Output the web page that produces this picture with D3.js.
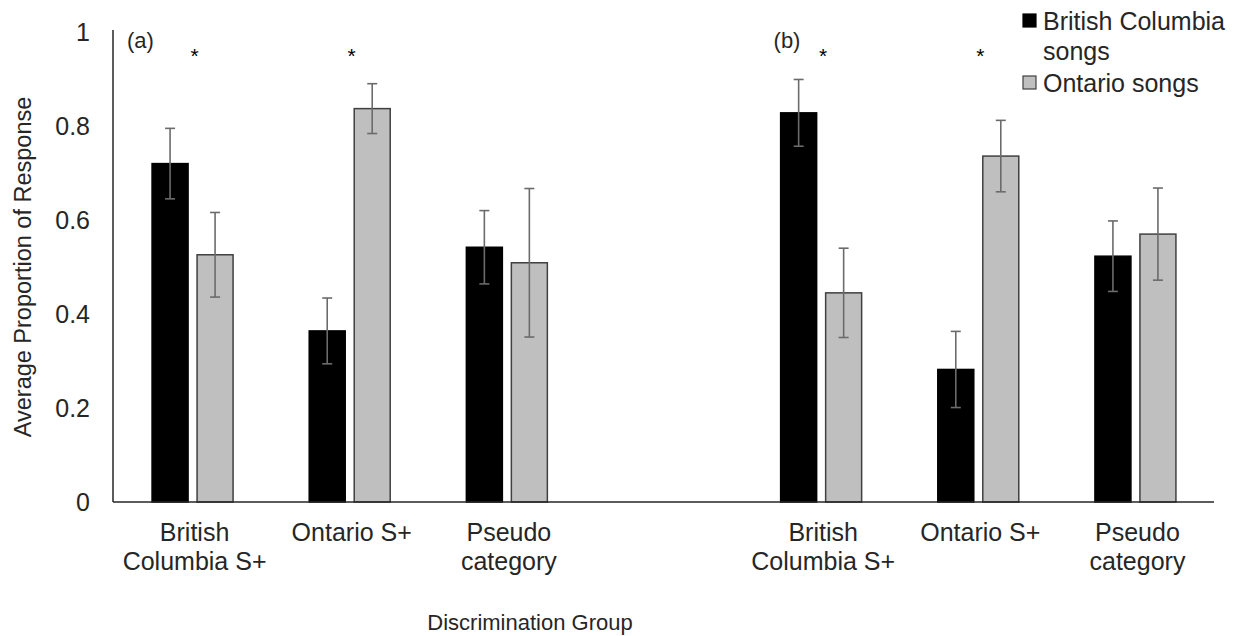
<!DOCTYPE html>
<html>
<head>
<meta charset="utf-8">
<script src="https://cdn.jsdelivr.net/npm/d3@7"></script>
<style>
  body { margin: 0; background: #fff; }
  svg { font-family: Arial, "Liberation Sans", sans-serif; }
  .tick-label, .cat-label, .legend-label { font-size: 25px; fill: #262626; }
  .axis-title { font-size: 22px; fill: #262626; }
  .y-title { font-size: 23.5px; }
  .panel-label { font-size: 22px; fill: #262626; }
  .star { font-size: 21px; fill: #000; }
</style>
</head>
<body>
<svg id="chart" width="1236" height="636"></svg>
<script>
// categories along the x axis (blank slot separates panel a and b)
var categories = [
  ['British', 'Columbia S+'], ['Ontario S+'], ['Pseudo', 'category'],
  [''],
  ['British', 'Columbia S+'], ['Ontario S+'], ['Pseudo', 'category']
];
var seriesNames = ['British Columbia songs', 'Ontario songs'];

// mean proportion and error per category (null = empty slot)
var bcMeans = [0.72, 0.364, 0.542, null, 0.828, 0.282, 0.523];
var bcErrors = [0.075, 0.07, 0.078, null, 0.071, 0.081, 0.075];
var onMeans = [0.526, 0.837, 0.509, null, 0.445, 0.736, 0.57];
var onErrors = [0.09, 0.053, 0.158, null, 0.095, 0.076, 0.098];

var significant = [0, 1, 4, 5];
var panelLabels = [{text: '(a)', at: 0}, {text: '(b)', at: 4}];
var yTicks = [0, 0.2, 0.4, 0.6, 0.8, 1];

var svg = d3.select('#chart');
var margin = {top: 32, left: 114, right: 22, bottom: 134};
var width = 1236 - margin.left - margin.right;
var height = 636 - margin.top - margin.bottom;
var panelLabelDx = [13, 31];

var g = svg.append('g').attr('transform', 'translate(' + margin.left + ',' + margin.top + ')');

var x = d3.scaleBand().domain(d3.range(categories.length)).range([0, width]);
var xs = d3.scaleBand().domain(d3.range(seriesNames.length)).range([0, 81]).paddingInner(0.2);
var y = d3.scaleLinear().domain([0, 1]).range([height, 0]);

var groupLeft = function(i) { return x(i) + x.bandwidth() / 2 - 40.5; };

var series = [
  {name: seriesNames[0], means: bcMeans, errors: bcErrors, fill: '#000', stroke: '#000'},
  {name: seriesNames[1], means: onMeans, errors: onErrors, fill: '#bfbfbf', stroke: '#404040'}
];

// y tick labels
g.selectAll('.tick-label')
    .data(yTicks)
    .enter()
    .append('text')
    .attr('class', 'tick-label')
    .attr('x', -24)
    .attr('y', function(d) { return y(d); })
    .attr('dy', '0.36em')
    .attr('text-anchor', 'end')
    .text(function(d) { return d3.format('~g')(d); });

// bars
series.forEach(function(s, si) {
  var rows = s.means.map(function(m, i) { return {i: i, m: m, e: s.errors[i]}; })
      .filter(function(d) { return d.m !== null; });

  g.selectAll('.bar-' + si)
      .data(rows)
      .enter()
      .append('rect')
      .attr('class', 'bar-' + si)
      .attr('x', function(d) { return groupLeft(d.i) + xs(si); })
      .attr('width', xs.bandwidth())
      .attr('y', function(d) { return y(d.m); })
      .attr('height', function(d) { return height - y(d.m); })
      .attr('fill', s.fill)
      .attr('stroke', s.stroke)
      .attr('stroke-width', 1.5);

  var err = g.selectAll('.err-' + si)
      .data(rows)
      .enter()
      .append('g')
      .attr('class', 'err-' + si)
      .attr('transform', function(d) {
        return 'translate(' + (groupLeft(d.i) + xs(si) + xs.bandwidth() / 2) + ',0)';
      })
      .attr('stroke', '#6b6b6b')
      .attr('stroke-width', 1.6);

  err.append('line')
      .attr('y1', function(d) { return y(d.m + d.e); })
      .attr('y2', function(d) { return y(d.m - d.e); });
  err.append('line')
      .attr('x1', -5).attr('x2', 5)
      .attr('y1', function(d) { return y(d.m + d.e); })
      .attr('y2', function(d) { return y(d.m + d.e); });
  err.append('line')
      .attr('x1', -5).attr('x2', 5)
      .attr('y1', function(d) { return y(d.m - d.e); })
      .attr('y2', function(d) { return y(d.m - d.e); });
});

// axes lines
g.append('line')
    .attr('x1', -1).attr('x2', -1)
    .attr('y1', y(1) - 2).attr('y2', height)
    .attr('stroke', '#262626').attr('stroke-width', 1.5);
g.append('line')
    .attr('x1', -1).attr('x2', width)
    .attr('y1', height).attr('y2', height)
    .attr('stroke', '#262626').attr('stroke-width', 1.5);

// category labels
var cat = g.selectAll('.cat')
    .data(categories)
    .enter()
    .append('text')
    .attr('class', 'cat-label')
    .attr('text-anchor', 'middle')
    .attr('transform', function(d, i) {
      return 'translate(' + (x(i) + x.bandwidth() / 2 + 2) + ',' + (height + 39) + ')';
    });
cat.selectAll('tspan')
    .data(function(d) { return d; })
    .enter()
    .append('tspan')
    .attr('x', 0)
    .attr('y', function(d, j) { return j * 29; })
    .text(function(d) { return d; });

// significance stars
g.selectAll('.star')
    .data(significant)
    .enter()
    .append('text')
    .attr('class', 'star')
    .attr('text-anchor', 'middle')
    .attr('x', function(d) { return x(d) + x.bandwidth() / 2 + 2; })
    .attr('y', 31)
    .text('*');

// panel labels
g.selectAll('.panel-label')
    .data(panelLabels)
    .enter()
    .append('text')
    .attr('class', 'panel-label')
    .attr('x', function(d, i) { return x(d.at) + panelLabelDx[i]; })
    .attr('y', 16)
    .text(function(d) { return d.text; });

// axis titles
svg.append('text')
    .attr('class', 'axis-title y-title')
    .attr('text-anchor', 'middle')
    .attr('transform', 'translate(31,' + (margin.top + height / 2) + ') rotate(-90)')
    .text('Average Proportion of Response');

svg.append('text')
    .attr('class', 'axis-title')
    .attr('text-anchor', 'middle')
    .attr('x', 530)
    .attr('y', 630)
    .text('Discrimination Group');

// legend
var legend = svg.append('g').attr('transform', 'translate(1023,0)');
var legendRows = [
  {lines: ['British Columbia', 'songs'], s: series[0], top: 14},
  {lines: ['Ontario songs'], s: series[1], top: 76}
];
var item = legend.selectAll('.item')
    .data(legendRows)
    .enter()
    .append('g')
    .attr('class', 'item');
item.append('rect')
    .attr('x', 0)
    .attr('y', function(d) { return d.top; })
    .attr('width', 13)
    .attr('height', 13)
    .attr('fill', function(d) { return d.s.fill; })
    .attr('stroke', function(d) { return d.s.stroke; })
    .attr('stroke-width', 1.2);
item.append('text')
    .attr('class', 'legend-label')
    .selectAll('tspan')
    .data(function(d) { return d.lines.map(function(l, j) { return {l: l, y: d.top + 16 + j * 30}; }); })
    .enter()
    .append('tspan')
    .attr('x', 20)
    .attr('y', function(d) { return d.y; })
    .text(function(d) { return d.l; });
</script>
</body>
</html>
